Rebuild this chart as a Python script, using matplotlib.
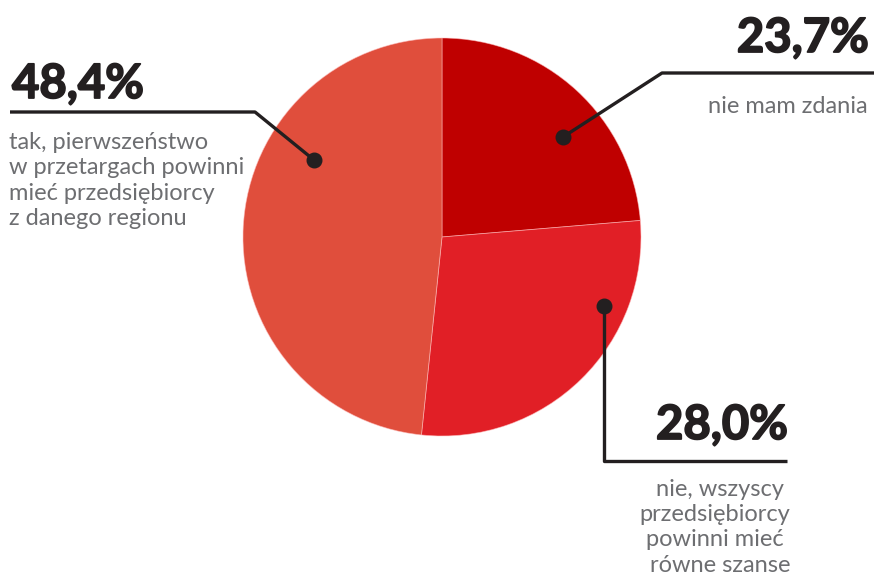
import matplotlib.pyplot as plt
import matplotlib.patheffects as pe

plt.rcParams['font.family'] = ['Lato', 'DejaVu Sans']

# survey shares, clockwise from 12 o'clock
shares = [23.7, 28.0, 48.4]
share_labels = ['23,7%', '28,0%', '48,4%']
answers = [
    'nie mam zdania',
    'nie, wszyscy \nprzedsiębiorcy\npowinni mieć \nrówne szanse',
    'tak, pierwszeństwo\nw przetargach powinni\nmieć przedsiębiorcy\nz danego regionu',
]
colors = ['#BF0000', '#E11F26', '#E04E3C']

W, H = 874, 575
fig = plt.figure(figsize=(W / 100, H / 100), dpi=100)
ax = fig.add_axes([0, 0, 1, 1])


def y(p):
    # pixel row (from top) to axis coordinate
    return H - p


ax.pie(shares, colors=colors, startangle=90, counterclock=False,
       center=(442, y(237)), radius=199,
       wedgeprops=dict(edgecolor=(1, 0.75, 0.75, 0.6), linewidth=0.6))

# pie() resets the limits, so set the pixel frame afterwards
ax.set_xlim(0, W)
ax.set_ylim(0, H)
ax.set_aspect('equal')
ax.axis('off')

ink = '#231F20'
grey = '#6D6E71'
line_kw = dict(color=ink, lw=2.4, solid_capstyle='butt', zorder=5)
dot_kw = dict(color=ink, s=110, zorder=6)
# thicken the bold numbers a little
big = dict(fontsize=34, fontweight='bold', color=ink,
           path_effects=[pe.withStroke(linewidth=1.3, foreground=ink)])
small = dict(fontsize=17, color=grey)

# 48,4% - left
ax.plot([10, 255, 314], [y(112), y(112), y(160)], **line_kw)
ax.scatter([314], [y(160)], **dot_kw)
ax.text(12, y(98), share_labels[2], ha='left', va='baseline', **big)
ax.text(9, y(132), answers[2], ha='left', va='top', linespacing=1.25,
        **small)

# 23,7% - top right
ax.plot([874, 662, 563], [y(73), y(73), y(137)], **line_kw)
ax.scatter([563], [y(137)], **dot_kw)
ax.text(869, y(52), share_labels[0], ha='right', va='baseline', **big)
ax.text(868, y(96), answers[0], ha='right', va='top', **small)

# 28,0% - bottom right
ax.plot([604, 604, 787], [y(306), y(461), y(461)], **line_kw)
ax.scatter([604], [y(306)], **dot_kw)
ax.text(788, y(439), share_labels[1], ha='right', va='baseline', **big)
ax.text(790, y(479), answers[1], ha='right', va='top', multialignment='right',
        linespacing=1.25, **small)

fig.savefig('out.png', dpi=100, facecolor='white')
